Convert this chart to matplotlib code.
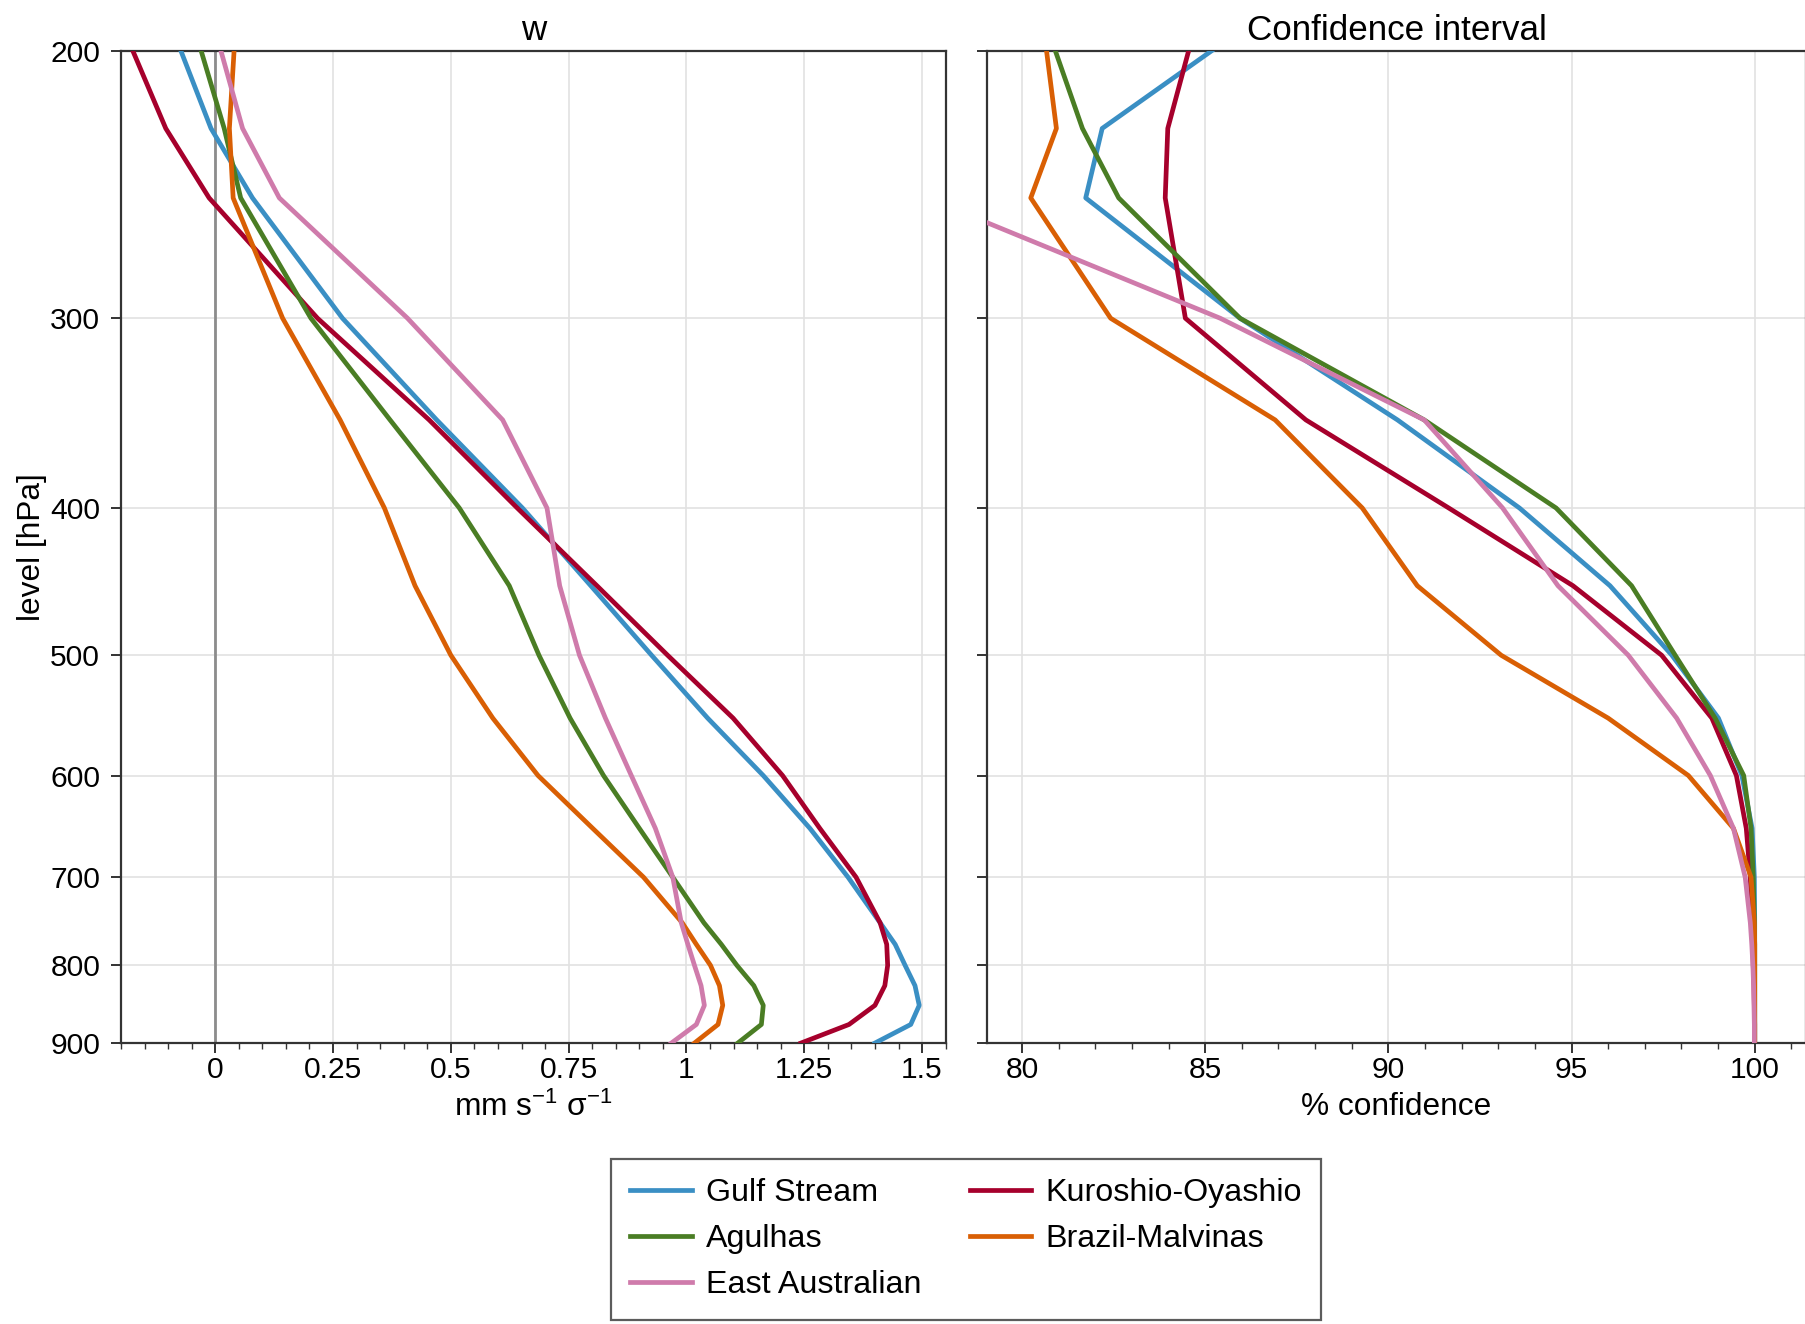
# vertical profiles of w and confidence for the western boundary currents

import matplotlib
matplotlib.use("Agg")
import matplotlib.pyplot as plt
from matplotlib.ticker import FixedLocator, NullLocator, MultipleLocator, FuncFormatter

plt.rcParams["font.family"] = ["Liberation Sans", "DejaVu Sans"]
plt.rcParams["mathtext.fontset"] = "custom"
plt.rcParams["mathtext.rm"] = "Liberation Sans"
plt.rcParams["mathtext.it"] = "Liberation Sans:italic"

levels = [200, 225, 250, 300, 350, 400, 450, 500, 550, 600, 650, 700, 750, 775, 800, 825, 850, 875, 900]

names = ["Gulf Stream", "Kuroshio-Oyashio", "Agulhas", "Brazil-Malvinas", "East Australian"]
colors = ["#3a8fc4", "#a6002c", "#4a7d24", "#d95f04", "#cf7bab"]

# w [mm s-1 sigma-1]
w_gulf = [-0.073, -0.009, 0.079, 0.270, 0.470, 0.652, 0.797, 0.926, 1.045, 1.163, 1.262, 1.343, 1.411, 1.443, 1.464, 1.485, 1.494, 1.476, 1.400]
w_kuro = [-0.175, -0.105, -0.013, 0.217, 0.454, 0.641, 0.810, 0.960, 1.099, 1.204, 1.283, 1.360, 1.411, 1.425, 1.427, 1.421, 1.400, 1.345, 1.243]
w_agul = [-0.030, 0.019, 0.054, 0.203, 0.371, 0.518, 0.624, 0.687, 0.753, 0.824, 0.900, 0.971, 1.037, 1.074, 1.107, 1.143, 1.163, 1.159, 1.109]
w_braz = [0.040, 0.030, 0.038, 0.143, 0.265, 0.359, 0.424, 0.500, 0.589, 0.685, 0.801, 0.909, 0.991, 1.021, 1.051, 1.070, 1.077, 1.067, 1.017]
w_eaus = [0.012, 0.058, 0.136, 0.408, 0.610, 0.704, 0.731, 0.773, 0.828, 0.883, 0.934, 0.971, 0.989, 1.003, 1.017, 1.031, 1.038, 1.021, 0.968]

# % confidence
c_gulf = [85.18, 82.19, 81.74, 85.95, 90.25, 93.58, 96.05, 97.74, 99.01, 99.65, 99.93, 99.99, 100, 100, 100, 100, 100, 100, 100]
c_kuro = [84.55, 83.98, 83.91, 84.46, 87.75, 91.65, 95.04, 97.46, 98.83, 99.50, 99.77, 99.88, 99.93, 99.95, 99.96, 99.98, 99.99, 100, 100]
c_agul = [80.91, 81.65, 82.64, 85.95, 90.98, 94.58, 96.64, 97.83, 98.92, 99.70, 99.90, 99.96, 99.99, 100, 100, 100, 100, 100, 100]
c_braz = [80.67, 80.94, 80.24, 82.42, 86.91, 89.29, 90.79, 93.08, 96.00, 98.19, 99.42, 99.90, 99.99, 100, 100, 100, 100, 100, 100]
c_eaus = [68.0, 72.0, 77.4, 85.41, 90.98, 93.12, 94.63, 96.55, 97.87, 98.79, 99.42, 99.74, 99.88, 99.92, 99.95, 99.97, 99.98, 99.99, 99.99]

w_all = [w_gulf, w_kuro, w_agul, w_braz, w_eaus]
c_all = [c_gulf, c_kuro, c_agul, c_braz, c_eaus]

yticks = [200, 300, 400, 500, 600, 700, 800, 900]

fig = plt.figure(figsize=(9.03, 6.62), dpi=200)
ax1 = fig.add_axes([0.067, 0.2122, 0.4566, 0.7495])
ax2 = fig.add_axes([0.5466, 0.2122, 0.4534, 0.7495])

for ax in (ax1, ax2):
    ax.set_yscale("log")
    ax.set_ylim(900, 200)
    ax.yaxis.set_major_locator(FixedLocator(yticks))
    ax.yaxis.set_minor_locator(NullLocator())
    ax.grid(True, color="#e2e2e2", lw=0.6, zorder=0)
    ax.set_axisbelow(True)
    for s in ax.spines.values():
        s.set_color("#333333")
        s.set_linewidth(0.8)
    ax.tick_params(which="major", length=3.5, width=0.7, labelsize=10.8, color="#333333")
    ax.tick_params(which="minor", length=2, width=0.5, color="#333333")
    ax.tick_params(axis="x", which="major", pad=1.3)
    ax.tick_params(axis="y", which="major", pad=4.0)

ax1.yaxis.set_major_formatter(FuncFormatter(lambda v, p: f"{v:g}"))
ax2.set_yticklabels([])

ax1.axvline(0, color="#8c8c8c", lw=1.0, zorder=1)
lines = []
for vals, name, col in zip(w_all, names, colors):
    ln, = ax1.plot(vals, levels, color=col, lw=1.7, label=name, zorder=3)
    lines.append(ln)
for vals, name, col in zip(c_all, names, colors):
    ax2.plot(vals, levels, color=col, lw=1.7, zorder=3)

ax1.set_xlim(-0.2, 1.55)
ax1.xaxis.set_major_locator(MultipleLocator(0.25))
ax1.xaxis.set_minor_locator(MultipleLocator(0.05))
ax1.xaxis.set_major_formatter(FuncFormatter(lambda v, p: f"{v:g}"))
ax1.set_xlabel(r"mm s$^{-1}$ σ$^{-1}$", fontsize=11.4, labelpad=2.8)
ax1.set_ylabel("level [hPa]", fontsize=11.4, labelpad=1.0)
ax1.set_title("w", fontsize=12.6, pad=4)

ax2.set_xlim(79.05, 101.4)
ax2.xaxis.set_major_locator(MultipleLocator(5))
ax2.xaxis.set_minor_locator(MultipleLocator(1))
ax2.set_xlabel("% confidence", fontsize=11.4, labelpad=2.8)
ax2.set_title("Confidence interval", fontsize=12.6, pad=4)

order = [0, 2, 4, 1, 3]
leg = fig.legend([lines[i] for i in order], [names[i] for i in order],
                 loc="center", bbox_to_anchor=(0.535, 0.064), ncol=2,
                 fontsize=11.6, frameon=True, fancybox=False, handlelength=1.9,
                 handletextpad=0.45, columnspacing=1.5, labelspacing=0.5,
                 borderpad=0.6, borderaxespad=0)
leg.get_frame().set_edgecolor("#333333")
leg.get_frame().set_linewidth(0.8)

fig.savefig("out.png", dpi=200)
